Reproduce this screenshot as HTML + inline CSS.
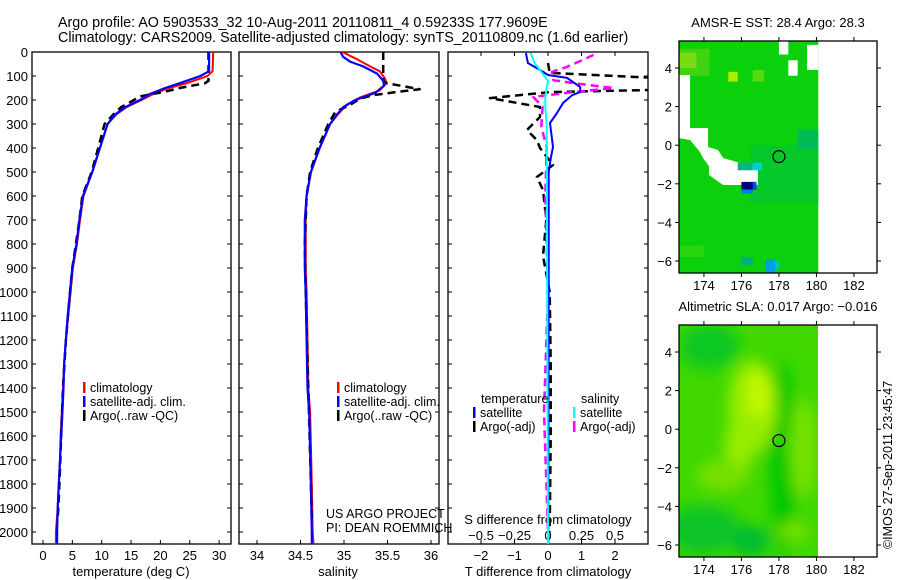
<!DOCTYPE html>
<html><head><meta charset="utf-8"><style>
html,body{margin:0;padding:0;background:#fff;}
svg{display:block;font-family:"Liberation Sans",sans-serif;}
</style></head><body>
<svg id="fig" width="900" height="580" viewBox="0 0 900 580" xmlns="http://www.w3.org/2000/svg">
<defs>
<clipPath id="c1"><rect x="32" y="52" width="199" height="492"/></clipPath>
<clipPath id="c2"><rect x="239" y="52" width="200" height="492"/></clipPath>
<clipPath id="c3"><rect x="448" y="52" width="200" height="492"/></clipPath>
<clipPath id="cm1"><rect x="679" y="41" width="198" height="232"/></clipPath>
<clipPath id="cm2"><rect x="679" y="325" width="139" height="232"/></clipPath>
<filter id="blur" x="-20%" y="-20%" width="140%" height="140%"><feGaussianBlur stdDeviation="7"/></filter>
</defs>
<text x="58" y="27" font-size="14.3">Argo profile: AO 5903533_32 10-Aug-2011 20110811_4 0.59233S 177.9609E</text>
<text x="58" y="42" font-size="14.3">Climatology: CARS2009. Satellite-adjusted climatology: synTS_20110809.nc (1.6d earlier)</text>
<g id="g"></g>
<text transform="translate(892,465) rotate(-90)" text-anchor="middle" font-size="12.5">©IMOS 27-Sep-2011 23:45:47</text>
</svg>
<script>
// ---------- data ----------
const tClimDepth=[0,80,100,130,150,175,200,230,260,300,400,500,600,700,800,900,1000,1100,1200,1300,1400,1500,1600,1700,1800,1900,2000,2050];
const tClim=[29.0,28.9,28.0,24.5,21.5,18.8,16.8,14.2,12.5,11.0,9.7,8.4,6.9,6.3,5.8,5.1,4.7,4.3,3.9,3.6,3.4,3.2,3.0,2.9,2.7,2.5,2.2,2.2];
const tSatDepth=[0,80,100,130,150,175,200,230,260,300,400,500,600,700,800,900,1000,1100,1200,1300,1400,1500,1600,1700,1800,1900,2000,2050];
const tSat=[28.3,28.3,26.8,23.3,20.8,18.2,16.5,14.0,12.3,11.0,9.7,8.4,6.8,6.2,5.7,5.0,4.6,4.2,3.9,3.6,3.5,3.3,3.1,2.9,2.7,2.5,2.4,2.4];
const tArgoDepth=[0,120,130,150,165,185,200,230,260,300,400,500,600,700,800,900,1000,1200,1400,1600,1800,1950];
const tArgo=[28.2,28.2,27.6,23.3,20.8,16.5,15.5,13.3,12.0,10.5,9.4,8.3,6.7,6.2,5.6,5.0,4.6,3.9,3.4,3.1,2.8,2.5];
const sClimDepth=[0,30,60,80,110,130,160,190,220,260,300,400,500,600,700,800,900,1000,1200,1400,1500,1800,2000,2050];
const sClim=[34.98,35.15,35.30,35.41,35.47,35.49,35.41,35.18,35.03,34.93,34.84,34.72,34.62,34.57,34.56,34.56,34.56,34.57,34.58,34.59,34.61,34.63,34.64,34.65];
const sSatDepth=[0,20,40,60,90,120,140,170,200,230,260,300,400,500,600,700,800,900,1000,1200,1400,1500,1800,2000,2050];
const sSat=[34.96,34.99,35.07,35.22,35.38,35.45,35.46,35.36,35.13,34.99,34.92,34.84,34.72,34.62,34.57,34.55,34.55,34.55,34.56,34.57,34.58,34.60,34.62,34.63,34.63];
const sArgoDepth=[0,120,130,155,165,180,195,220,250,300,400,500,600,800,1000,1400,1800,1950];
const sArgo=[35.45,35.45,35.49,35.87,35.64,35.33,35.18,35.07,34.90,34.82,34.70,34.61,34.57,34.55,34.56,34.59,34.62,34.63];
const dTSatDepth=[4,46,75,96,108,146,167,180,212,254,296,396,437,500,1000,2050];
const dTSat=[-0.66,-0.6,-0.24,0,0.57,0.96,0.96,0.72,0.45,0.27,0.06,0.15,0.09,0.02,0.02,0.01];
const dSSatDepth=[4,46,90,120,150,190,230,300,2050];
const dSSat=[-0.13,-0.1,-0.04,0,-0.01,-0.02,-0.02,-0.01,0];
const dSArgoDepth=[12,33,62,83,117,130,150,167,187,229,312,396,600,1000,1500,2000];
const dSArgo=[0.34,0.26,0.14,0.03,0.04,0.19,0.49,0.19,-0.11,-0.04,-0.05,-0.01,-0.02,0,-0.03,0];
const dTArgoDepth=[46,87,108,158,167,192,229,271,325,367,400,471,521,575,700,850,1000,1300,1600,2000];
const dTArgo=[0,0.05,3.2,3.2,0.05,-1.73,-0.24,-0.24,-0.63,-0.33,-0.24,0.15,-0.33,-0.15,-0.05,-0.15,0.05,0.08,0.08,0.05];
const depthTicks=[0,100,200,300,400,500,600,700,800,900,1000,1100,1200,1300,1400,1500,1600,1700,1800,1900,2000];
const tTicks=[0,5,10,15,20,25,30];
const sTicks=[34,34.5,35,35.5,36];
const sTickLabels=["34","34.5","35","35.5","36"];
const dTTicks=[-2,-1,0,1,2];
const dSTicks=[-0.5,-0.25,0,0.25,0.5];
const dSTickLabels=["\u22120.5","\u22120.25","0","0.25","0.5"];
const latTicks=[4,2,0,-2,-4,-6];
const lonTicks=[174,176,178,180,182];
const argoLon=178.0, argoLat=-0.59;
// SST map patches: [lon0,lat0,lon1,lat1,color]
const sstPatches=[[172.67,3.6,174.3,5.0,'#40d410'],[172.67,4.0,173.6,4.8,'#77dc10'],[175.3,3.3,175.8,3.8,'#aaee00'],[176.6,3.3,177.2,3.9,'#55d810'],
[176.5,-3.0,180.1,0.0,'#04c82a'],[179.0,-0.2,180.1,0.8,'#00bc55'],[172.67,-5.8,174.0,-5.2,'#2ad610'],
[178.0,4.7,178.5,5.4,'#ffffff'],[178.5,3.6,179.0,4.4,'#ffffff'],[179.5,3.9,180.1,5.2,'#ffffff'],
[175.8,-1.3,176.6,-0.9,'#00b880'],[176.6,-1.3,177.1,-0.9,'#00d0d0'],[176.0,-2.3,176.8,-1.9,'#000080'],[176.6,-2.3,176.8,-1.9,'#0050d0'],[176.0,-2.5,176.6,-2.3,'#0080e0'],
[177.3,-6.6,177.8,-5.9,'#00a0e0'],[177.8,-6.4,178.0,-6.0,'#00c8b0'],[176.0,-6.2,176.6,-5.8,'#00b080']];
const sstWhiteLon=[172.67,173.26,173.26,174.22,174.22,174.75,175.02,176.88,176.88,175.02,174.27,174.27,173.95,173.79,173.26,172.67];
const sstWhiteLat=[3.64,3.64,0.89,0.89,-0.09,-0.25,-0.66,-1.18,-2.06,-2.06,-1.54,-1.08,-0.66,-0.35,0.27,0.37];
// SLA blobs: [lon,lat,rxDeg,ryDeg,color]
const slaBlobs=[[174.3,4.3,1.6,1.2,'#10c820'],[178.2,-1.5,0.7,5,'#00c800'],[174.0,-5.2,2,1.3,'#10c428'],[176.5,-5.8,1.0,0.8,'#00bc30'],
[176.6,1.2,1.3,2.4,'#99ec00'],[175.9,-0.8,0.8,1.4,'#99ec00'],[176.9,1.8,0.6,1.2,'#c4f800'],[179.3,-1.0,0.7,2.6,'#77e200'],[175.0,-2.4,1.4,0.8,'#77e000'],[178.8,-5.3,0.8,0.5,'#77e000']];

// ---------- helpers ----------
const NS='http://www.w3.org/2000/svg';
const G=document.getElementById('g');
function el(tag,attrs,parent){const e=document.createElementNS(NS,tag);for(const k in attrs)e.setAttribute(k,attrs[k]);(parent||G).appendChild(e);return e;}
const Y=d=>52+d*0.24;
function panelX(x0,v0,scale){return v=>x0+(v-v0)*scale;}
const xT=panelX(43,0,5.87), xS=panelX(257,34,87), xDT=panelX(548,0,33.5), xDS=panelX(548,0,134);
function line(xs,depths,vals,stroke,w,dash,clip,name){
  const pts=vals.map((v,i)=>xs(v).toFixed(1)+','+Y(depths[i]).toFixed(1)).join(' ');
  const p=el('polyline',{points:pts,fill:'none',stroke:stroke,'stroke-width':w,'stroke-linejoin':'round','clip-path':'url(#'+clip+')'});
  if(dash)p.setAttribute('stroke-dasharray',dash);
  
  
}
function txt(x,y,s,size,anchor,name){const t=el('text',{x:x,y:y,'font-size':size,'text-anchor':anchor||'start'});t.textContent=s;
  
  return t;}
function box(x,y,w,h,name){const r=el('rect',{x:x,y:y,width:w,height:h,fill:'none',stroke:'#000','stroke-width':1.3});
  
  }

// ---------- panel frames & depth ticks ----------
const panels=[[32,199,'temperature-panel'],[239,200,'salinity-panel'],[448,200,'difference-panel']];
panels.forEach(p=>{box(p[0],52,p[1],492,p[2]);
  depthTicks.forEach(d=>{el('line',{x1:p[0],x2:p[0]+4,y1:Y(d),y2:Y(d),stroke:'#000'});el('line',{x1:p[0]+p[1]-4,x2:p[0]+p[1],y1:Y(d),y2:Y(d),stroke:'#000'});});});
depthTicks.forEach(d=>txt(28,Y(d)+5,String(d),13,'end','depth-tick-label'));

// x ticks
tTicks.forEach(v=>{el('line',{x1:xT(v),x2:xT(v),y1:544,y2:540,stroke:'#000'});txt(xT(v),560,String(v),13,'middle','temperature-tick-label');});
txt(131,576,'temperature (deg C)',13,'middle','temperature-axis-title');
sTicks.forEach((v,i)=>{el('line',{x1:xS(v),x2:xS(v),y1:544,y2:540,stroke:'#000'});txt(xS(v),560,sTickLabels[i],13,'middle','salinity-tick-label');});
txt(338,576,'salinity',13,'middle','salinity-axis-title');
dTTicks.forEach(v=>{el('line',{x1:xDT(v),x2:xDT(v),y1:544,y2:540,stroke:'#000'});el('line',{x1:xDT(v),x2:xDT(v),y1:52,y2:56,stroke:'#000'});txt(xDT(v),560,v<0?'\u2212'+(-v):String(v),13,'middle','t-diff-tick-label');});
dSTicks.forEach((v,i)=>txt(xDS(v),540,dSTickLabels[i],13,'middle','s-diff-tick-label'));
txt(548,524,'S difference from climatology',13,'middle','s-diff-axis-title');
txt(548,576,'T difference from climatology',13,'middle','t-diff-axis-title');

// ---------- series ----------
line(xT,tClimDepth,tClim,'#ff0000',2,null,'c1','temperature-climatology-line');
line(xT,tArgoDepth,tArgo,'#000',2.5,'8,5','c1','temperature-argo-line');
line(xT,tSatDepth,tSat,'#0000ff',2.2,null,'c1','temperature-satellite-line');
line(xS,sClimDepth,sClim,'#ff0000',2,null,'c2','salinity-climatology-line');
line(xS,sArgoDepth,sArgo,'#000',2.5,'8,5','c2','salinity-argo-line');
line(xS,sSatDepth,sSat,'#0000ff',2.2,null,'c2','salinity-satellite-line');
line(xDT,dTArgoDepth,dTArgo,'#000',2.5,'8,5','c3','t-diff-argo-line');
line(xDS,dSArgoDepth,dSArgo,'#ff00ff',2.5,'8,5','c3','s-diff-argo-line');
line(xDT,dTSatDepth,dTSat,'#0000ff',2,null,'c3','t-diff-satellite-line');
line(xDS,dSSatDepth,dSSat,'#00ffff',2,null,'c3','s-diff-satellite-line');

// ---------- legends ----------
function legend(x,y,color,label,name){el('rect',{x:x,y:y-10,width:2.5,height:11,fill:color});txt(x+7,y,label,12.5,'start',name);}
[[90,'climatology','#ff0000'],[104,'satellite-adj. clim.','#0000ff'],[118,'Argo(..raw -QC)','#000']].forEach((r,i)=>{
 legend(83,302+r[0],r[2],r[1],'temperature-legend-entry');legend(337,302+r[0],r[2],r[1],'salinity-legend-entry');});
txt(481,403,'temperature',12.5,'start','diff-legend-temperature-header');
txt(581,403,'salinity',12.5,'start','diff-legend-salinity-header');
legend(473,417,'#0000ff','satellite','diff-legend-t-satellite');
legend(473,431,'#000','Argo(-adj)','diff-legend-t-argo');
legend(573,417,'#00ffff','satellite','diff-legend-s-satellite');
legend(573,431,'#ff00ff','Argo(-adj)','diff-legend-s-argo');
txt(326,518,'US ARGO PROJECT',12.5,'start','project-credit');
txt(326,532,'PI: DEAN ROEMMICH',12.5,'start','pi-credit');

// ---------- maps ----------
const LX=lon=>679+(lon-172.67)*18.75;
function mapAxes(top,title,name){
  const LY=lat=>top+(5.4-lat)*19.3;
  box(679,top,198,232,name);
  latTicks.forEach(l=>{el('line',{x1:675,x2:679,y1:LY(l),y2:LY(l),stroke:'#000'});el('line',{x1:877,x2:881,y1:LY(l),y2:LY(l),stroke:'#000'});
    txt(672,LY(l)+5,l<0?'\u2212'+(-l):String(l),13,'end','latitude-tick-label');});
  lonTicks.forEach(l=>{el('line',{x1:LX(l),x2:LX(l),y1:top-4,y2:top,stroke:'#000'});el('line',{x1:LX(l),x2:LX(l),y1:top+232,y2:top+236,stroke:'#000'});
    txt(LX(l),top+249,String(l),13,'middle','longitude-tick-label');});
  txt(778,top-14,title,13,'middle','map-title');
  const c=el('circle',{cx:LX(argoLon),cy:LY(argoLat),r:6,fill:'none',stroke:'#000','stroke-width':1.2});
  
  
  return LY;
}
// SST
const g1=el('g',{'clip-path':'url(#cm1)'});


const LY1=lat=>41+(5.4-lat)*19.3;
el('rect',{x:LX(172.67),y:LY1(5.4),width:LX(180.1)-LX(172.67),height:LY1(-6.6)-LY1(5.4),fill:'#0bd00b'},g1);
sstPatches.slice(0,7).forEach(p=>el('rect',{x:LX(p[0]),y:LY1(p[3]),width:LX(p[2])-LX(p[0]),height:LY1(p[1])-LY1(p[3]),fill:p[4]},g1));
el('polygon',{points:sstWhiteLon.map((l,i)=>LX(l)+','+LY1(sstWhiteLat[i])).join(' '),fill:'#fff'},g1);
sstPatches.slice(7).forEach(p=>el('rect',{x:LX(p[0]),y:LY1(p[3]),width:LX(p[2])-LX(p[0]),height:LY1(p[1])-LY1(p[3]),fill:p[4]},g1));
mapAxes(41,'AMSR-E SST: 28.4  Argo: 28.3','sst-map-frame');
// SLA
const g2=el('g',{'clip-path':'url(#cm2)'});


const LY2=lat=>325+(5.4-lat)*19.3;
el('rect',{x:679,y:325,width:139,height:232,fill:'#40d800'},g2);
const gb=el('g',{filter:'url(#blur)'},g2);
slaBlobs.forEach(b=>el('ellipse',{cx:LX(b[0]),cy:LY2(b[1]),rx:b[2]*18.75,ry:b[3]*19.3,fill:b[4]},gb));
mapAxes(325,'Altimetric SLA: 0.017  Argo: \u22120.016','sla-map-frame');
</script>
</body></html>
